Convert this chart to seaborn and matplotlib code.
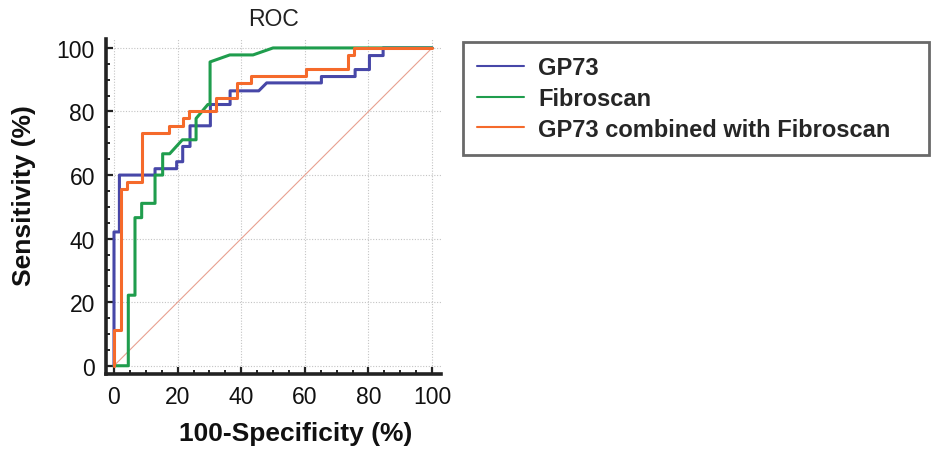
import numpy as np
import pandas as pd
import matplotlib
matplotlib.use("Agg")
import matplotlib.pyplot as plt
from matplotlib.ticker import MultipleLocator
import seaborn as sns

# ROC curve vertices (100-specificity %, sensitivity %)
gp73_fpr = [0, 0, 1.7, 1.7, 12.9, 12.9, 19.7, 19.7, 21.6, 21.6, 23.9, 23.9,
            30.3, 30.3, 36.5, 36.5, 45.5, 48, 65.2, 65.2, 75.8, 75.8,
            80.3, 80.3, 84.6, 84.6, 100]
gp73_tpr = [0, 42.1, 42.1, 60, 60, 62, 62, 64.2, 64.2, 69, 69, 75.5,
            75.5, 82.2, 82.2, 86.5, 86.5, 89, 89, 91, 91, 93.2,
            93.2, 97.6, 97.6, 100, 100]

fibro_fpr = [0, 4.5, 4.5, 6.6, 6.6, 8.7, 8.7, 12.9, 12.9, 15.3, 15.3, 17.5,
             21.5, 25.8, 25.8, 29.5, 30.2, 30.2, 36.4, 43.7, 50, 100]
fibro_tpr = [0, 0, 22.2, 22.2, 46.6, 46.6, 51.1, 51.1, 60, 60, 66.7, 66.7,
             71.1, 71.1, 77.8, 82.2, 82.2, 95.6, 97.8, 97.8, 100, 100]

combo_fpr = [0, 0, 2.1, 2.1, 4.2, 4.2, 8.7, 8.7, 17.4, 17.4, 21.6, 21.6,
             23.7, 23.7, 32.2, 32.2, 38.8, 38.8, 43.2, 43.2, 60.5, 60.5,
             73.5, 73.5, 75.6, 75.6, 100]
combo_tpr = [0, 11.1, 11.1, 55.6, 55.6, 57.8, 57.8, 73.3, 73.3, 75.5, 75.5,
             77.8, 77.8, 80, 80, 84.4, 84.4, 88.9, 88.9, 91.1, 91.1, 93.3,
             93.3, 97.8, 97.8, 100, 100]

series = ["GP73", "Fibroscan", "GP73 combined with Fibroscan"]
colors = ["#4747a8", "#1f9d4d", "#f56a2b"]

frames = []
for name, fpr, tpr in zip(series,
                          [gp73_fpr, fibro_fpr, combo_fpr],
                          [gp73_tpr, fibro_tpr, combo_tpr]):
    frames.append(pd.DataFrame({"fpr": fpr, "tpr": tpr, "test": name}))
df = pd.concat(frames, ignore_index=True)

sns.set_style("white")
plt.rcParams["font.family"] = ["Liberation Sans", "DejaVu Sans"]

fig = plt.figure(figsize=(9.31, 4.56), dpi=100)
ax = fig.add_axes([0.1139, 0.1776, 0.3598, 0.7346])

# reference diagonal
ax.plot([0, 100], [0, 100], color="#e8a090", linewidth=0.8, zorder=1)

sns.lineplot(data=df, x="fpr", y="tpr", hue="test", hue_order=series,
             palette=dict(zip(series, colors)), sort=False, estimator=None,
             linewidth=2.2, ax=ax, zorder=3)

ax.set_xlim(-2.5, 102.8)
ax.set_ylim(-2.6, 102.8)
ax.xaxis.set_major_locator(MultipleLocator(20))
ax.yaxis.set_major_locator(MultipleLocator(20))
ax.xaxis.set_minor_locator(MultipleLocator(5))
ax.yaxis.set_minor_locator(MultipleLocator(5))
ax.grid(True, which="major", color="#c4c4c4", linestyle=(0, (1, 1.5)),
        linewidth=0.8)
ax.set_axisbelow(True)

for side in ["top", "right"]:
    ax.spines[side].set_visible(False)
for side in ["left", "bottom"]:
    ax.spines[side].set_color("#222222")
    ax.spines[side].set_linewidth(2.6)

ax.tick_params(which="major", direction="in", length=5, width=1.6,
               color="#222222", labelsize=16.5, pad=8, labelcolor="#111111")
ax.tick_params(which="minor", direction="in", length=3, width=1.4,
               color="#222222")
ax.tick_params(axis="x", which="both", bottom=True)
ax.tick_params(axis="y", which="both", left=True)

ax.set_title("ROC", fontsize=16.5, pad=10, color="#222222")
ax.set_xlabel("100-Specificity (%)", fontsize=19, fontweight="bold",
              color="#111111")
ax.set_ylabel("Sensitivity (%)", fontsize=19, fontweight="bold",
              color="#111111")
ax.xaxis.set_label_coords(0.567, -0.14)
ax.yaxis.set_label_coords(-0.21, 0.537)

handles, labels = ax.get_legend_handles_labels()
ax.get_legend().remove()
leg = fig.legend(handles, labels, loc="upper left",
                 bbox_to_anchor=(0.497, 0.906, 0.501, 0.0),
                 mode="expand", prop={"weight": "bold", "size": 17},
                 handlelength=2.0, handletextpad=0.6, labelspacing=0.33,
                 borderpad=0.6, frameon=True, fancybox=False,
                 borderaxespad=0.0)
leg.get_frame().set_edgecolor("#444444")
leg.get_frame().set_linewidth(2.0)
for line in leg.get_lines():
    line.set_linewidth(1.5)

fig.savefig("out.png", dpi=100)
